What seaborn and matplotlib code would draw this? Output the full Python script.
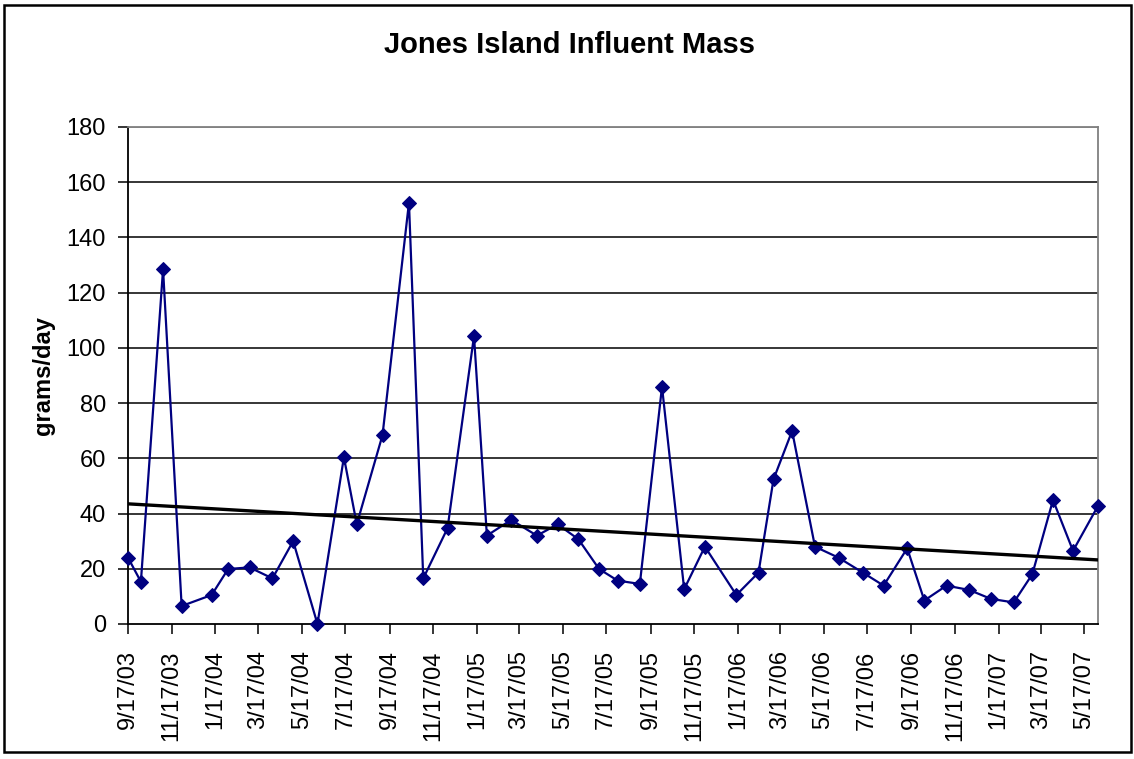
import pandas as pd
import matplotlib
matplotlib.use("Agg")
import matplotlib.pyplot as plt
import matplotlib.dates as mdates
from matplotlib.patches import Rectangle
import seaborn as sns


# =========================
# Data
# =========================

sample_dates = [
    "2003-09-17", "2003-10-05", "2003-11-05", "2003-12-01", "2004-01-12",
    "2004-02-04", "2004-03-05", "2004-04-06", "2004-05-05", "2004-06-08",
    "2004-07-15", "2004-08-02", "2004-09-07", "2004-10-14", "2004-11-03",
    "2004-12-07", "2005-01-13", "2005-01-31", "2005-03-06", "2005-04-11",
    "2005-05-10", "2005-06-08", "2005-07-07", "2005-08-02", "2005-09-02",
    "2005-10-03", "2005-11-03", "2005-12-02", "2006-01-15", "2006-02-15",
    "2006-03-08", "2006-04-03", "2006-05-05", "2006-06-07", "2006-07-11",
    "2006-08-09", "2006-09-11", "2006-10-05", "2006-11-05", "2006-12-07",
    "2007-01-06", "2007-02-07", "2007-03-05", "2007-04-03", "2007-05-01",
    "2007-06-05",
]

grams_per_day = [
    24.0, 15.3, 128.5, 6.5, 10.5,
    19.9, 20.5, 16.5, 30.0, 0.0,
    60.4, 36.1, 68.4, 152.6, 16.5,
    34.7, 104.3, 32.0, 37.7, 32.0,
    36.1, 30.7, 19.9, 15.7, 14.5,
    85.9, 12.6, 28.0, 10.5, 18.6,
    52.4, 69.9, 28.0, 24.0, 18.6,
    13.9, 27.4, 8.5, 13.9, 12.3,
    9.1, 7.8, 18.0, 44.9, 26.5,
    42.8,
]

tick_labels = [
    "9/17/03", "11/17/03", "1/17/04", "3/17/04", "5/17/04", "7/17/04",
    "9/17/04", "11/17/04", "1/17/05", "3/17/05", "5/17/05", "7/17/05",
    "9/17/05", "11/17/05", "1/17/06", "3/17/06", "5/17/06", "7/17/06",
    "9/17/06", "11/17/06", "1/17/07", "3/17/07", "5/17/07",
]
y_ticks = list(range(0, 181, 20))


df = pd.DataFrame({
    "date": pd.to_datetime(sample_dates),
    "mass": grams_per_day,
})
df["x"] = mdates.date2num(df["date"])

tick_pos = mdates.date2num(pd.to_datetime(tick_labels, format="%m/%d/%y"))


# =========================
# Style
# =========================

sns.set_style("white")
plt.rcParams["font.family"] = ["Liberation Sans", "DejaVu Sans"]
plt.rcParams["text.color"] = "black"
plt.rcParams["axes.labelcolor"] = "black"
plt.rcParams["xtick.color"] = "black"
plt.rcParams["ytick.color"] = "black"


fig = plt.figure(figsize=(11.34, 7.59), dpi=100)
ax = fig.add_axes([0.1129, 0.1779, 0.9683 - 0.1129, 0.8327 - 0.1779])


# gridlines
for v in y_ticks[1:]:
    ax.axhline(v, color="#808080" if v == 180 else "black", lw=1.1, zorder=0)


# series
sns.lineplot(
    data=df,
    x="x",
    y="mass",
    ax=ax,
    color="#000080",
    lw=1.6,
    marker="D",
    markersize=7.5,
    markeredgecolor="#000080",
    zorder=3,
    clip_on=False,
)

# linear trend
sns.regplot(
    data=df,
    x="x",
    y="mass",
    ax=ax,
    scatter=False,
    ci=None,
    color="black",
    line_kws={"lw": 2.4, "zorder": 4},
)


# =========================
# Axes
# =========================

ax.set_xlim(df["x"].min(), df["x"].max())
ax.set_ylim(0, 180)

ax.set_yticks(y_ticks)
ax.set_xticks(tick_pos)
ax.set_xticklabels(tick_labels, rotation=90)

ax.tick_params(axis="both", labelsize=17, direction="out",
               length=7, width=1.1, color="black",
               left=True, bottom=True)
ax.tick_params(axis="y", pad=9)
ax.tick_params(axis="x", pad=12)

for side in ["left", "bottom"]:
    ax.spines[side].set_color("black")
    ax.spines[side].set_linewidth(1.3)
for side in ["top", "right"]:
    ax.spines[side].set_color("#808080")
    ax.spines[side].set_linewidth(1.3)

ax.set_xlabel("")
ax.set_ylabel("grams/day", fontsize=17, fontweight="bold", labelpad=8)


fig.text(
    0.502, 1 - 45 / 759,
    "Jones Island Influent Mass",
    ha="center",
    va="center",
    fontsize=21,
    fontweight="bold",
)

# chart area border
fig.patches.append(
    Rectangle(
        (3.5 / 1134, 1 - 752 / 759),
        (1131 - 3.5) / 1134,
        (752 - 4.5) / 759,
        transform=fig.transFigure,
        fill=False,
        edgecolor="black",
        lw=1.8,
    )
)


fig.savefig("out.png", dpi=100)
